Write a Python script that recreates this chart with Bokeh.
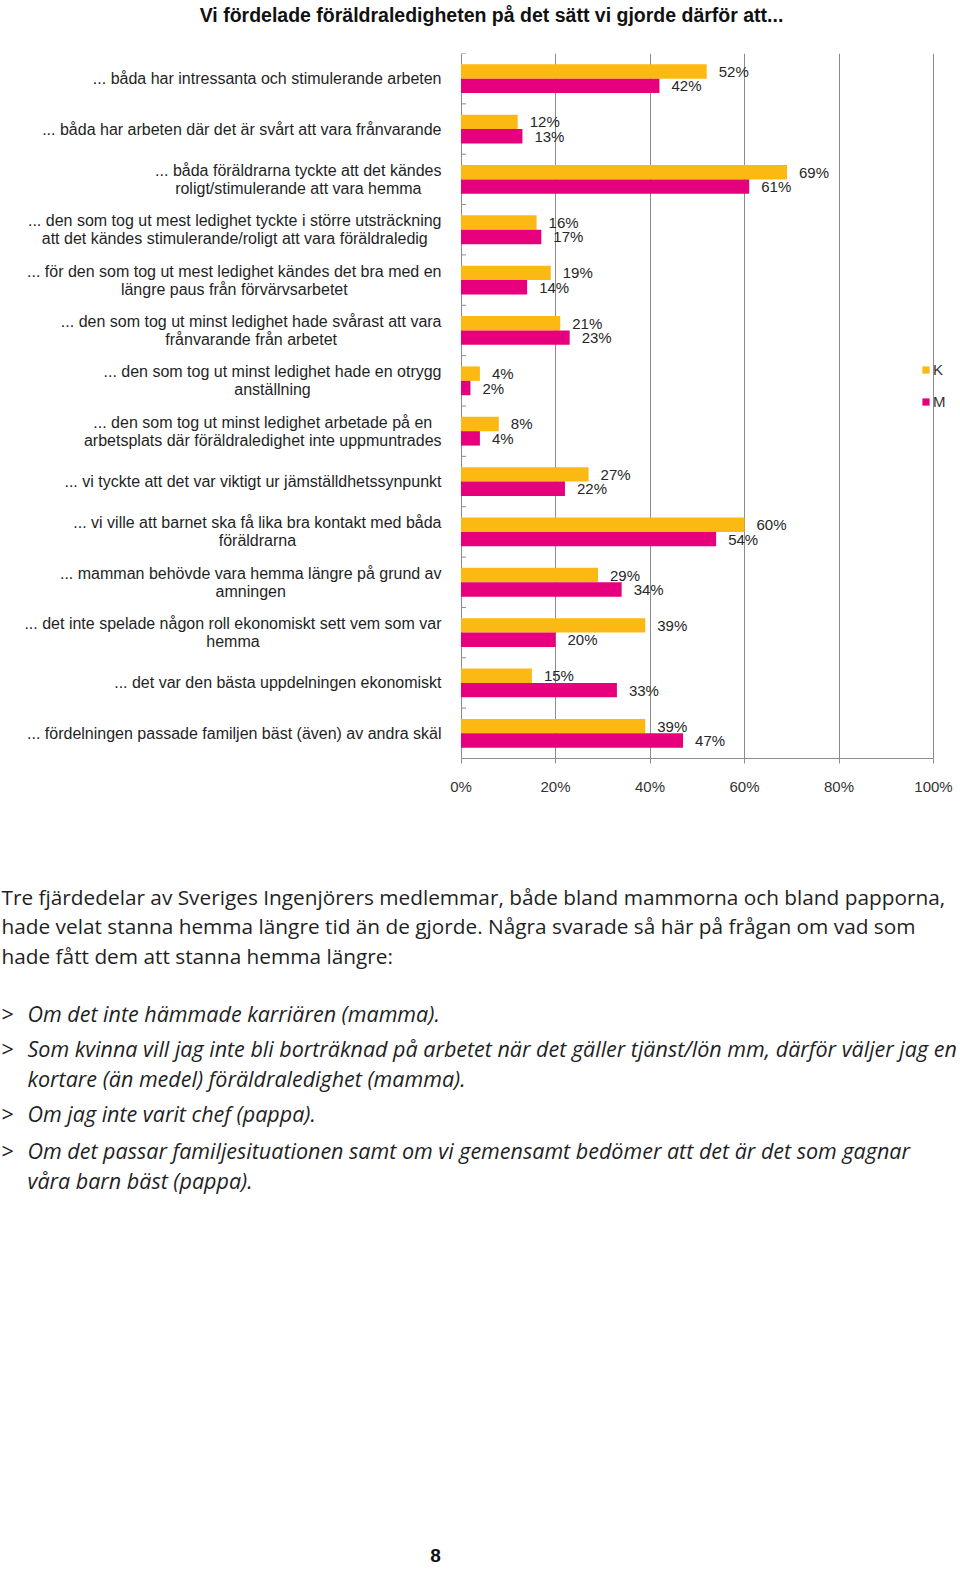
from bokeh.plotting import figure
from bokeh.models import (ColumnDataSource, Legend, LegendItem, FixedTicker,
                          PrintfTickFormatter)
from bokeh.layouts import column
from bokeh.embed import file_html
from bokeh.resources import INLINE
from bokeh.core.properties import value

# ---------------- data ----------------
title_text = "Vi fördelade föräldraledigheten på det sätt vi gjorde därför att..."
categories = [
    "... båda har intressanta och stimulerande arbeten",
    "... båda har arbeten där det är svårt att vara frånvarande",
    "... båda föräldrarna tyckte att det kändes\nroligt/stimulerande att vara hemma",
    "... den som tog ut mest ledighet tyckte i större utsträckning\natt det kändes stimulerande/roligt att vara föräldraledig",
    "... för den som tog ut mest ledighet kändes det bra med en\nlängre paus från förvärvsarbetet",
    "... den som tog ut minst ledighet hade svårast att vara\nfrånvarande från arbetet",
    "... den som tog ut minst ledighet hade en otrygg\nanställning",
    "... den som tog ut minst ledighet arbetade på en\narbetsplats där föräldraledighet inte uppmuntrades",
    "... vi tyckte att det var viktigt ur jämställdhetssynpunkt",
    "... vi ville att barnet ska få lika bra kontakt med båda\nföräldrarna",
    "... mamman behövde vara hemma längre på grund av\namningen",
    "... det inte spelade någon roll ekonomiskt sett vem som var\nhemma",
    "... det var den bästa uppdelningen ekonomiskt",
    "... fördelningen passade familjen bäst (även) av andra skäl",
]
k_values = [52, 12, 69, 16, 19, 21, 4, 8, 27, 60, 29, 39, 15, 39]
m_values = [42, 13, 61, 17, 14, 23, 2, 4, 22, 54, 34, 20, 33, 47]
series_names = ["K", "M"]
x_ticks = [0, 20, 40, 60, 80, 100]

paragraph_lines = [
    "Tre fjärdedelar av Sveriges Ingenjörers medlemmar, både bland mammorna och bland papporna,",
    "hade velat stanna hemma längre tid än de gjorde.  Några svarade så här på frågan om vad som",
    "hade fått dem att stanna hemma längre:",
]
quotes = [
    "Om det inte hämmade karriären (mamma).",
    "Som kvinna vill jag inte bli borträknad på arbetet när det gäller tjänst/lön mm, därför väljer jag en\nkortare (än medel) föräldraledighet (mamma).",
    "Om jag inte varit chef (pappa).",
    "Om det passar familjesituationen samt om vi gemensamt bedömer att det är det som gagnar\nvåra barn bäst (pappa).",
]
page_number = "8"

# ---------------- style / layout ----------------
K_COLOR = "#FDB913"
M_COLOR = "#E6007E"
GRID = "#8c8c8c"
TXT = "#1f1f1f"
FONT = "Liberation Sans"
BODY_FONT = "Open Sans"
W = 960
TITLE_H = 53          # page px above the plotting area
CH_H = 777            # chart figure height (frame 705 + axis area 72)
AXIS_H = 72
ZERO_PX = 460.5       # page x of 0 %
PX_PER_PCT = 4.725
LAB_FS = 16

# Arial / Liberation Sans advance widths (per 1000 em) for label centring
_AW = {" ": 278, ".": 278, ",": 278, "/": 278, "(": 333, ")": 333, "%": 889,
       "a": 556, "b": 556, "c": 500, "d": 556, "e": 556, "f": 278, "g": 556,
       "h": 556, "i": 222, "j": 222, "k": 500, "l": 222, "m": 833, "n": 556,
       "o": 556, "p": 556, "q": 556, "r": 333, "s": 500, "t": 278, "u": 556,
       "v": 500, "w": 722, "x": 500, "y": 500, "z": 500, "å": 556, "ä": 556,
       "ö": 556}


def text_width(s, fs):
    return sum(_AW.get(c, 556) for c in s) / 1000.0 * fs


# ---------------- title figure ----------------
t_fig = figure(width=W, height=TITLE_H, x_range=(0, W), y_range=(TITLE_H, 0),
               x_axis_type=None, y_axis_type=None, toolbar_location=None,
               output_backend="svg", min_border=0, title=None)
t_fig.outline_line_color = None
t_fig.grid.visible = False
t_fig.text(x=[491], y=[14], text=[title_text], text_align="center",
           text_baseline="middle", text_font=value(FONT),
           text_font_size="19.5px", text_font_style="bold", text_color="#111111")

# ---------------- chart figure ----------------
n = len(categories)
frame_h = CH_H - AXIS_H
px_per_unit = frame_h / n

x_start = -ZERO_PX / PX_PER_PCT
x_end = (W - ZERO_PX) / PX_PER_PCT
p = figure(width=W, height=CH_H, x_range=(x_start, x_end), y_range=(n, 0),
           toolbar_location=None, output_backend="svg", title=None,
           min_border_left=0, min_border_right=0, min_border_top=0,
           min_border_bottom=AXIS_H, y_axis_type=None)
p.outline_line_color = None
p.ygrid.visible = False
p.xgrid.ticker = FixedTicker(ticks=x_ticks)
p.xgrid.grid_line_color = GRID
p.xgrid.grid_line_width = 1

xa = p.xaxis[0]
xa.ticker = FixedTicker(ticks=x_ticks)
xa.bounds = (x_ticks[0], x_ticks[-1])
xa.formatter = PrintfTickFormatter(format="%d%%")
xa.axis_line_color = GRID
xa.major_tick_line_color = GRID
xa.major_tick_out = 5
xa.major_tick_in = 0
xa.minor_tick_line_color = None
xa.major_label_text_font = FONT
xa.major_label_text_font_size = "15px"
xa.major_label_text_color = "#333333"
xa.major_label_standoff = 14

# small category-boundary ticks on the 0 % axis
bounds_y = list(range(n + 1))
p.segment(x0=[0] * len(bounds_y), x1=[5 / PX_PER_PCT] * len(bounds_y),
          y0=bounds_y, y1=bounds_y, line_color=GRID, line_width=1)

bar_h = 14.4 / px_per_unit
centers = [i + 0.5 for i in range(n)]
src_k = ColumnDataSource(dict(y=[c - bar_h / 2 for c in centers], v=k_values,
                              lab=[f"{v}%" for v in k_values]))
src_m = ColumnDataSource(dict(y=[c + bar_h / 2 for c in centers], v=m_values,
                              lab=[f"{v}%" for v in m_values]))
rk = p.hbar(y="y", left=0, right="v", height=bar_h, source=src_k,
            fill_color=K_COLOR, line_color=None)
rm = p.hbar(y="y", left=0, right="v", height=bar_h, source=src_m,
            fill_color=M_COLOR, line_color=None)
for src in (src_k, src_m):
    p.text(x="v", y="y", text="lab", source=src, x_offset=12,
           text_align="left", text_baseline="middle", text_font=value(FONT),
           text_font_size="15px", text_color="#262626")

# category labels (lines centred within a right-aligned block)
line_gap = 18.0 / px_per_unit
lx, ly, lt, lo = [], [], [], []
for i, cat in enumerate(categories):
    lines = cat.split("\n")
    maxw = max(text_width(s, LAB_FS) for s in lines)
    for j, s in enumerate(lines):
        lx.append(0)
        ly.append(centers[i] + (j - (len(lines) - 1) / 2) * line_gap)
        lt.append(s)
        lo.append(-19.5 - maxw / 2)
cat_src = ColumnDataSource(dict(x=lx, y=ly, t=lt, o=lo))
p.text(x="x", y="y", text="t", x_offset="o", source=cat_src,
       text_align="center", text_baseline="middle", text_font=value(FONT),
       text_font_size=f"{LAB_FS}px", text_color=TXT)

legend = Legend(items=[LegendItem(label=series_names[0], renderers=[rk]),
                       LegendItem(label=series_names[1], renderers=[rm])],
                location=(921, 348.5), orientation="vertical",
                glyph_width=9, glyph_height=9, label_height=9,
                label_standoff=3, spacing=15, padding=0, margin=0,
                border_line_alpha=0, background_fill_alpha=0,
                label_text_font=FONT, label_text_font_size="15px",
                label_text_color="#333333")
p.add_layout(legend, "center")

# ---------------- body text figure ----------------
top_b = TITLE_H + CH_H
TX_H = 1571 - top_b
b = figure(width=W, height=TX_H, x_range=(0, W), y_range=(top_b + TX_H, top_b),
           x_axis_type=None, y_axis_type=None, toolbar_location=None,
           output_backend="svg", min_border=0, title=None)
b.outline_line_color = None
b.grid.visible = False

para_y = [896, 925.5, 955]
b.text(x=[1] * len(paragraph_lines), y=para_y, text=paragraph_lines,
       text_align="left", text_baseline="middle", text_font=value(BODY_FONT),
       text_font_size="20.8px", text_color=TXT)

q_starts = [1013, 1048, 1113, 1150]
qx, qy, qt, gy = [], [], [], []
for start, q in zip(q_starts, quotes):
    gy.append(start)
    for j, s in enumerate(q.split("\n")):
        qx.append(27)
        qy.append(start + j * 30)
        qt.append(s)
b.text(x=[1] * len(gy), y=gy, text=[">"] * len(gy), text_align="left",
       text_baseline="middle", text_font=value(BODY_FONT),
       text_font_size="21.5px", text_color=TXT)
b.text(x=qx, y=qy, text=qt, text_align="left", text_baseline="middle",
       text_font=value(BODY_FONT), text_font_size="21.5px",
       text_font_style="italic", text_color=TXT)
b.text(x=[435], y=[1555], text=[page_number], text_align="center",
       text_baseline="middle", text_font=value(FONT), text_font_size="19px",
       text_font_style="bold", text_color="#111111")

layout = column(t_fig, p, b, spacing=0)
open("out.html", "w").write(file_html(layout, INLINE))
